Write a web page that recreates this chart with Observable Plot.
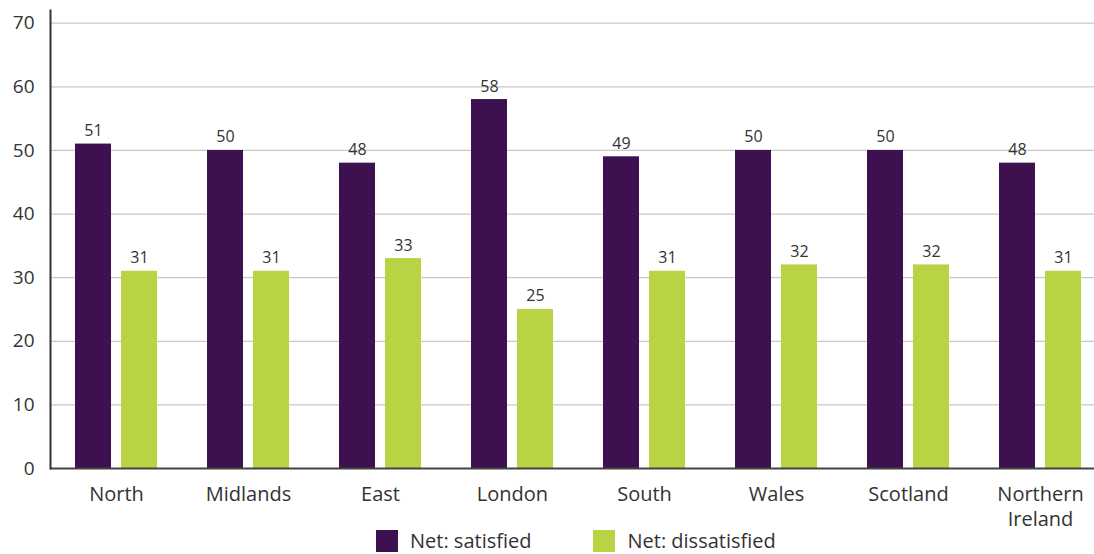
<!DOCTYPE html>
<html>
<head>
<meta charset="utf-8">
<script src="https://cdn.jsdelivr.net/npm/d3@7"></script>
<script src="https://cdn.jsdelivr.net/npm/@observablehq/plot@0.6"></script>
<style>
  html, body { margin: 0; padding: 0; background: #fff; overflow: hidden; }
  body { font-family: "Open Sans", sans-serif; color: #333; }
  #chart svg { display: block; overflow: visible; }
  .legend { display: flex; margin: 0 0 0 376px; font-size: 20px; line-height: 22px; }
  .legend .item { display: flex; align-items: center; }
  .legend .item + .item { margin-left: 62px; }
  .legend .swatch { width: 22px; height: 22px; margin-right: 12px; }
</style>
</head>
<body>
<div id="chart"></div>
<div class="legend" id="legend"></div>
<script>
// Regions and their axis labels
const regions = ["North", "Midlands", "East", "London", "South", "Wales", "Scotland", "Northern Ireland"];
const regionLabels = ["North", "Midlands", "East", "London", "South", "Wales", "Scotland", "Northern\nIreland"];

// Series
const seriesNames = ["Net: satisfied", "Net: dissatisfied"];
const seriesColors = ["#3d1150", "#b8d343"];
const satisfied = [51, 50, 48, 58, 49, 50, 50, 48];
const dissatisfied = [31, 31, 33, 25, 31, 32, 32, 31];

// Value axis ticks
const yTicks = [0, 10, 20, 30, 40, 50, 60, 70];

const rows = regions.flatMap((region, i) => [
  {region, series: seriesNames[0], value: satisfied[i]},
  {region, series: seriesNames[1], value: dissatisfied[i]}
]);

const font = "'Open Sans', sans-serif";

const chart = Plot.plot({
  width: 1094,
  height: 530,
  marginLeft: 50,
  marginRight: 0,
  marginTop: 10,
  marginBottom: 62,
  style: {fontFamily: font, color: "#333", background: "#fff"},
  fx: {domain: regions, range: [50, 1106], padding: 0, label: null},
  x: {domain: seriesNames, paddingInner: 0.213, paddingOuter: 0.511, axis: null},
  y: {domain: [0, 72], axis: null},
  color: {domain: seriesNames, range: seriesColors},
  marks: [
    Plot.ruleY(yTicks.filter(t => t > 0), {stroke: "#c8c8c8", strokeWidth: 1.2}),
    Plot.barY(rows, {fx: "region", x: "series", y: "value", fill: "series"}),
    Plot.text(rows, {
      fx: "region", x: "series", y: "value",
      text: d => String(d.value),
      dy: -8, lineAnchor: "bottom", fontSize: 16, fill: "#333"
    }),
    Plot.ruleY([0], {stroke: "#444", strokeWidth: 2}),
    Plot.axisY(yTicks, {
      anchor: "left", tickSize: 0, tickPadding: 16, fontSize: 19, label: null, fill: "#333"
    }),
    Plot.axisFx({
      anchor: "bottom", tickSize: 0, tickPadding: 15, fontSize: 20, label: null, fill: "#333",
      lineHeight: 1.24,
      tickFormat: d => regionLabels[regions.indexOf(d)]
    }),
    Plot.frame({anchor: "left", facetAnchor: "left", stroke: "#333", strokeWidth: 2})
  ]
});

document.getElementById("chart").append(chart);

// Legend built from the same series names and colours
const legend = document.getElementById("legend");
seriesNames.forEach((name, i) => {
  const item = document.createElement("div");
  item.className = "item";
  const sw = document.createElement("span");
  sw.className = "swatch";
  sw.style.background = seriesColors[i];
  const label = document.createElement("span");
  label.textContent = name;
  item.append(sw, label);
  legend.append(item);
});
</script>
</body>
</html>
